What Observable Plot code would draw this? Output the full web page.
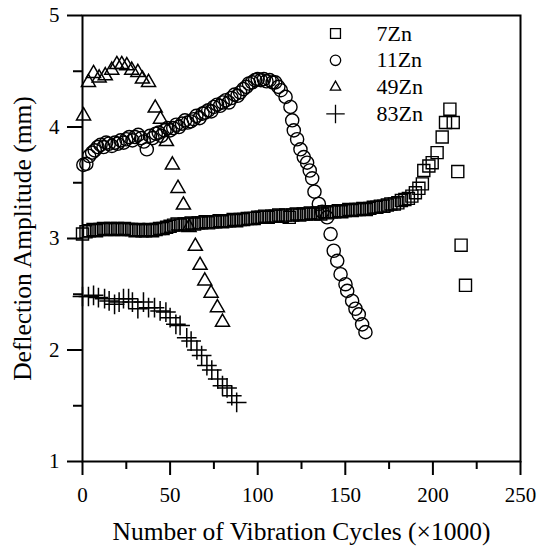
<!DOCTYPE html>
<html>
<head>
<meta charset="utf-8">
<script src="https://cdn.jsdelivr.net/npm/d3@7"></script>
<script src="https://cdn.jsdelivr.net/npm/@observablehq/plot@0.6"></script>
<style>
  html, body { margin: 0; padding: 0; background: #fff; }
  #chart svg { display: block; }
  #chart svg, #chart svg text { font-family: 'Liberation Serif', 'Times New Roman', serif !important; }
  #chart svg g[aria-label$="axis tick"] { stroke-width: 2px; stroke-opacity: 1; }
</style>
</head>
<body>
<div id="chart"></div>
<script>
// ---- Data ----
const seriesNames = ["7Zn", "11Zn", "49Zn", "83Zn"];
const xTicks = [0, 50, 100, 150, 200, 250];
const xMinorTicks = [25, 75, 125, 175, 225];
const yTicks = [1, 2, 3, 4, 5];
const yMinorTicks = [1.5, 2.5, 3.5, 4.5];
const xTitle = "Number of Vibration Cycles (\u00d71000)";
const yTitle = "Deflection Amplitude (mm)";

// 7Zn (squares)
const zn7X = [0,2,4,6,8,10,12,14,16,18,20,22,24,26,28,30,32,34,36,38,40,42,44,46,48,50,52,54,56,58,60,62,64,66,68,70,72,74,76,78,80,82,84,86,88,90,92,94,96,98,100,102,104,106,108,110,112,114,116,118,120,122,124,126,128,130,132,134,136,138,140,142,144,146,148,150,152,154,156,158,160,162,164,166,168,170,172,174,176,178,180,182,184,186,188,190,192,194,194.8,197.7,199.6,202.4,205.3,207.2,209.7,211.6,214.2,216.1,218.6];
const zn7Y = [3.04,3.06,3.07,3.08,3.07,3.08,3.09,3.08,3.09,3.08,3.09,3.08,3.09,3.08,3.08,3.07,3.08,3.07,3.07,3.08,3.07,3.08,3.09,3.09,3.10,3.11,3.12,3.13,3.12,3.13,3.13,3.14,3.13,3.14,3.14,3.15,3.14,3.15,3.15,3.16,3.15,3.16,3.16,3.17,3.16,3.17,3.17,3.18,3.18,3.18,3.19,3.19,3.20,3.19,3.20,3.20,3.21,3.20,3.21,3.19,3.21,3.22,3.21,3.22,3.22,3.23,3.22,3.23,3.22,3.24,3.23,3.24,3.24,3.25,3.24,3.25,3.26,3.25,3.26,3.26,3.27,3.26,3.27,3.28,3.28,3.29,3.29,3.30,3.31,3.31,3.32,3.34,3.35,3.36,3.38,3.41,3.45,3.49,3.61,3.65,3.68,3.77,3.91,4.04,4.16,4.04,3.60,2.94,2.58];

// 11Zn (circles)
const zn11X = [0.5,2.2,3.8,5.5,7.0,8.6,10.3,12.0,13.5,15.0,16.8,18.5,20.0,21.8,23.5,25.0,26.7,28.5,30.0,31.8,33.5,35.0,36.7,38.5,40.0,41.8,43.5,45.0,46.8,48.5,50.0,51.8,53.5,55.0,56.8,58.5,60.0,61.8,63.5,65.0,66.8,68.5,70.0,71.8,73.5,75.0,76.8,78.5,80.0,81.8,83.5,85.0,86.8,88.5,90.0,91.8,93.5,95.0,96.8,98.5,100.0,101.8,103.5,105.0,106.8,108.5,110.0,111.8,113.2,115.9,118.7,119.7,120.6,122.5,124.4,126.3,128.2,129.7,131.1,132.4,134.9,136.8,139.6,141.6,143.4,145.4,147.3,150.1,151.1,153.9,155.8,157.7,159.6,161.5];
const zn11Y = [3.66,3.67,3.74,3.77,3.79,3.82,3.84,3.82,3.86,3.85,3.83,3.86,3.85,3.88,3.86,3.89,3.91,3.88,3.91,3.93,3.90,3.87,3.80,3.92,3.90,3.94,3.95,3.92,3.97,3.99,3.97,3.99,4.02,4.00,4.03,4.06,4.04,4.05,4.07,4.10,4.08,4.12,4.13,4.15,4.14,4.18,4.20,4.19,4.22,4.24,4.22,4.26,4.29,4.28,4.31,4.34,4.36,4.39,4.40,4.42,4.43,4.42,4.43,4.41,4.42,4.40,4.40,4.36,4.33,4.27,4.18,4.06,3.97,3.89,3.80,3.73,3.68,3.61,3.54,3.42,3.31,3.24,3.19,3.04,2.89,2.80,2.68,2.59,2.53,2.44,2.37,2.32,2.23,2.16];

// 49Zn (triangles)
const zn49X = [0.6,3.4,6.3,9.5,13.0,16.7,19.6,22.4,25.3,28.1,31.6,34.2,37.7,41.5,44.5,47.9,51.3,54.5,57.6,60.8,64.4,67.1,69.8,73.4,77.0,79.9];
const zn49Y = [4.10,4.40,4.48,4.44,4.46,4.51,4.56,4.56,4.55,4.51,4.49,4.43,4.40,4.17,4.07,3.87,3.66,3.45,3.30,3.10,2.93,2.76,2.62,2.51,2.38,2.25];

// 83Zn (plus)
const zn83X = [0,3.4,6.3,9.1,12.6,15.2,18.3,20.9,23.4,26.3,28.5,31.6,34.8,37.7,41.1,44.3,47.6,50.0,53.3,55.7,59.5,62.0,65.3,68.0,71.0,73.8,77.2,79.9,82.5,85.2,88.0];
const zn83Y = [2.48,2.48,2.49,2.47,2.46,2.44,2.41,2.43,2.46,2.46,2.43,2.37,2.43,2.38,2.38,2.35,2.34,2.29,2.23,2.22,2.11,2.08,2.00,1.95,1.86,1.82,1.74,1.68,1.66,1.59,1.53];

// ---- Build tables ----
const pts = (xs, ys) => xs.map((x, i) => ({x, y: ys[i]}));
const d7 = pts(zn7X, zn7Y);
const d11 = pts(zn11X, zn11Y);
const d49 = pts(zn49X, zn49Y);
const d83 = pts(zn83X, zn83Y);

const symbols = ["square", "circle", "triangle2", "plus"];
const legendR = [5.6, 5.2, 4.9, 6.0];
const legend = seriesNames.map((name, i) => ({name, i}));

const W = 538, H = 546, ML = 82, MR = 18, MT = 15, MB = 85;
const innerW = W - ML - MR, innerH = H - MT - MB;

const legendMarks = legend.flatMap(({name, i}) => [
  Plot.dot([name], {frameAnchor: "top-right", dx: -185, dy: 18 + i * 26.8,
    symbol: () => symbols[i], r: legendR[i], stroke: "black", strokeWidth: 1.3, fill: "none"}),
  Plot.text([name], {frameAnchor: "top-right", dx: -144, dy: 18 + i * 26.8,
    text: d => d, textAnchor: "start", lineAnchor: "middle", fontSize: 22, fill: "black"})
]);

const chart = Plot.plot({
  width: W,
  height: H,
  marginLeft: ML,
  marginRight: MR,
  marginTop: MT,
  marginBottom: MB,
  style: {fontSize: "21px", color: "black", background: "white"},
  x: {domain: [0, 250], ticks: xTicks, tickSize: 14, tickPadding: 12, tickFormat: "d", label: null},
  y: {domain: [1, 5], ticks: yTicks, tickSize: 15, tickPadding: 8, tickFormat: "d", label: null},
  marks: [
    Plot.tickY(yMinorTicks, {y: d => d, insetLeft: -9, insetRight: innerW, stroke: "black", strokeWidth: 2}),
    Plot.tickX(xMinorTicks, {x: d => d, insetTop: innerH, insetBottom: -8, stroke: "black", strokeWidth: 2}),
    Plot.frame({stroke: "black", strokeWidth: 2}),
    Plot.dot(d7, {x: "x", y: "y", symbol: () => "square", r: 6.8, stroke: "black", strokeWidth: 1.4, fill: "none"}),
    Plot.dot(d11, {x: "x", y: "y", symbol: () => "circle", r: 6.6, stroke: "black", strokeWidth: 1.4, fill: "none"}),
    Plot.dot(d49, {x: "x", y: "y", symbol: () => "triangle2", r: 6.7, stroke: "black", strokeWidth: 1.5, fill: "none"}),
    Plot.dot(d83, {x: "x", y: "y", symbol: () => "plus", r: 6.4, stroke: "black", strokeWidth: 1.5, fill: "none"}),
    ...legendMarks,
    Plot.text([xTitle], {frameAnchor: "bottom", dy: 78, text: d => d, lineAnchor: "bottom", fontSize: 25.5, fill: "black"}),
    Plot.text([yTitle], {frameAnchor: "left", dx: -60, rotate: -90, text: d => d, lineAnchor: "middle", textAnchor: "middle", fontSize: 25.5, fill: "black"})
  ]
});

document.getElementById("chart").appendChild(chart);
</script>
</body>
</html>
